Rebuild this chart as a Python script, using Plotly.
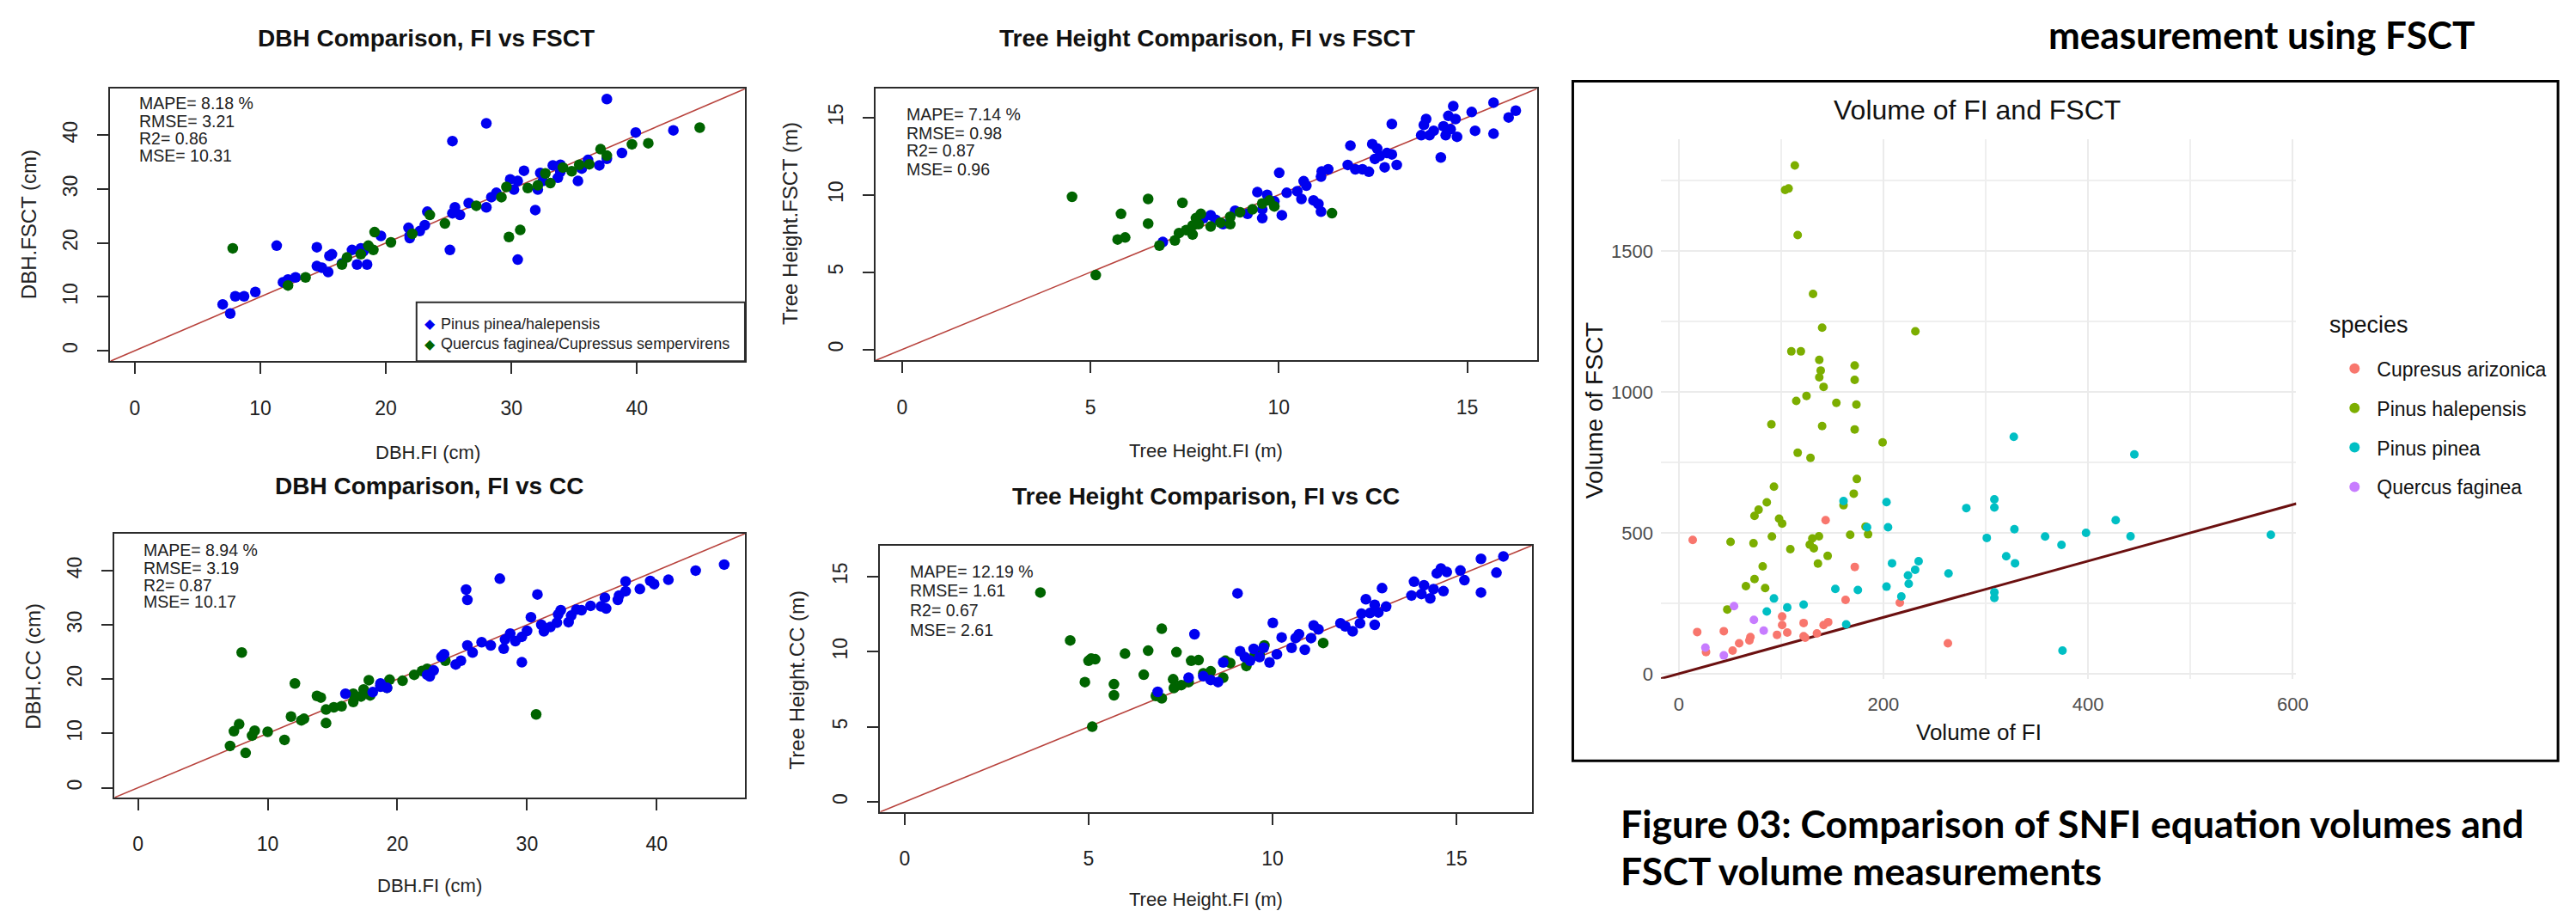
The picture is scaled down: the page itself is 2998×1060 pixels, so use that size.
import plotly.graph_objects as go

W, H = 2998, 1060
RFONT = "Liberation Sans, Arial, sans-serif"
CAPFONT = "Lato, Open Sans, sans-serif"

# ---------------- data ----------------
# Panel 1: DBH, FI vs FSCT (cm)
p1_pinus_fi = [37.6, 28.0, 25.3, 42.9, 39.9, 38.8, 37.6, 37.0, 36.1, 35.6, 35.3, 33.9, 33.3, 33.9, 33.7, 32.3, 32.5, 32.1,
               31.0, 30.5, 29.9, 30.2, 31.9, 30.5, 28.8, 28.4, 28.0, 26.6, 25.9, 25.5, 25.3, 25.1, 23.3, 23.1, 22.7, 21.8,
               21.9, 21.9, 19.6, 18.4, 18.2, 18.0, 17.3, 17.7, 18.5, 16.5, 15.7, 15.5, 14.5, 14.5, 14.9, 15.4, 12.8, 12.2,
               11.8, 11.3, 9.6, 8.7, 8.0, 7.0, 7.6]
p1_pinus_fsct = [46.7, 42.2, 38.9, 40.9, 40.5, 36.7, 35.6, 34.4, 35.4, 33.8, 31.5, 34.5, 34.4, 33.2, 32.1, 33.0, 31.5, 29.9,
                 33.4, 31.5, 31.8, 29.9, 26.1, 16.9, 29.3, 28.5, 26.6, 27.4, 25.2, 26.6, 25.5, 18.7, 25.8, 23.3, 22.2, 22.8,
                 21.4, 20.9, 21.3, 19.0, 18.4, 19.0, 18.7, 16.0, 16.0, 16.2, 17.9, 17.6, 19.2, 15.7, 15.4, 14.6, 13.6, 13.2,
                 12.7, 19.5, 10.9, 10.1, 10.1, 8.6, 6.9]
p1_quercus_fi = [45.0, 40.9, 39.6, 37.1, 37.6, 36.2, 35.4, 34.8, 34.1, 33.1, 32.7, 32.1, 31.3, 29.6, 30.7, 29.8, 29.2, 27.2,
                 24.7, 23.5, 22.1, 20.4, 19.1, 19.0, 18.6, 18.0, 16.9, 16.5, 13.6, 12.2, 7.8]
p1_quercus_fsct = [41.4, 38.5, 38.3, 37.4, 36.2, 34.6, 34.5, 33.3, 34.0, 31.1, 32.9, 30.7, 30.2, 30.4, 22.4, 21.1, 28.5, 26.9,
                   23.6, 25.2, 21.7, 20.1, 22.0, 18.7, 19.5, 17.9, 17.3, 16.0, 13.6, 12.1, 19.0]

# Panel 2: tree height, FI vs FSCT (m)
p2_pinus_fi = [6.92, 8.0, 8.19, 8.32, 8.52, 8.84, 9.17, 9.43, 9.56, 9.56, 9.69, 9.88, 10.01, 10.08, 10.21, 10.49, 10.60,
               10.66, 10.73, 10.92, 11.05, 11.12, 11.12, 11.31, 11.14, 11.83, 11.90, 12.03, 12.22, 12.39, 12.48, 12.55,
               12.61, 12.68, 12.81, 12.87, 13.0, 13.13, 13.0, 13.78, 13.85, 13.91, 14.0, 14.11, 14.30, 14.37, 14.43,
               14.50, 14.56, 14.63, 14.69, 14.73, 15.12, 15.21, 15.70, 15.70, 16.10, 16.29]
p2_pinus_fsct = [6.95, 8.49, 8.68, 8.39, 8.10, 8.97, 8.77, 10.17, 8.49, 9.06, 10.0, 9.58, 11.42, 8.68, 10.13, 10.23, 9.73,
                 10.88, 10.59, 9.64, 9.41, 8.91, 11.17, 11.65, 11.51, 11.93, 13.18, 11.65, 11.65, 11.49, 13.28, 12.32,
                 12.99, 12.51, 11.78, 12.70, 12.61, 11.93, 14.58, 13.85, 14.52, 14.90, 13.85, 14.14, 12.41, 14.43, 13.85,
                 15.10, 14.24, 15.73, 14.90, 13.75, 15.35, 14.14, 15.96, 13.95, 15.0, 15.44]
p2_quercus_fi = [4.51, 5.14, 5.72, 5.92, 5.81, 6.53, 6.53, 7.44, 6.83, 7.24, 7.35, 7.54, 7.71, 7.71, 7.87, 7.80, 7.93, 8.19,
                 8.45, 8.71, 8.71, 8.97, 9.30, 9.56, 9.75, 9.88, 11.41]
p2_quercus_fsct = [9.87, 4.81, 7.11, 7.24, 8.77, 9.73, 8.14, 9.48, 6.72, 7.05, 7.53, 7.72, 7.43, 8.01, 8.10, 8.49, 8.77, 7.95,
                   8.20, 8.10, 8.58, 8.87, 9.06, 9.44, 9.63, 9.25, 8.81]

# Panel 3: DBH, FI vs CC (cm)
p3_pinus_fi = [16.0, 18.1, 18.7, 19.2, 18.7, 22.3, 22.5, 22.8, 23.4, 23.6, 24.5, 24.9, 25.3, 25.4, 25.4, 25.8, 26.5, 27.2,
               27.9, 28.2, 28.3, 28.7, 29.1, 29.6, 29.6, 30.0, 30.3, 30.8, 31.1, 31.3, 31.8, 32.3, 32.4, 32.6, 33.2, 33.4,
               33.8, 34.2, 34.9, 35.7, 36.0, 36.1, 37.0, 37.1, 37.6, 37.6, 38.7, 39.5, 39.8, 40.9, 43.0, 45.2]
p3_pinus_cc = [17.3, 17.6, 18.6, 18.4, 19.2, 20.8, 20.5, 21.6, 24.1, 24.6, 22.7, 23.4, 36.5, 34.6, 26.2, 24.9, 26.8, 26.2,
               38.5, 25.6, 27.3, 28.4, 27.0, 23.1, 27.8, 28.9, 31.4, 35.6, 30.0, 28.8, 29.6, 30.4, 31.9, 32.7, 30.5, 31.7,
               32.8, 32.7, 33.5, 33.4, 35.0, 33.0, 34.6, 35.4, 38.0, 36.2, 36.6, 38.1, 37.5, 38.3, 40.0, 41.1]
p3_quercus_fi = [8.0, 12.1, 11.8, 13.8, 14.1, 14.5, 14.5, 15.1, 15.7, 16.6, 16.6, 17.2, 17.4, 17.8, 17.9, 18.7, 19.2, 19.4,
                 20.4, 21.3, 21.9, 22.3, 23.7, 30.7, 7.1, 7.4, 7.8, 8.3, 8.8, 9.0, 10.0, 11.3, 12.6, 12.8]
p3_quercus_cc = [24.9, 19.2, 13.1, 16.9, 16.6, 11.9, 14.4, 14.8, 15.0, 15.8, 17.3, 16.8, 18.1, 19.8, 17.0, 18.9, 18.4, 19.9,
                 19.7, 20.8, 21.5, 21.9, 23.4, 13.5, 7.7, 10.4, 11.7, 6.4, 9.6, 10.5, 10.3, 8.8, 12.4, 12.7]

# Panel 4: tree height, FI vs CC (m)
p4_pinus_fi = [6.88, 7.88, 7.72, 8.12, 8.32, 8.52, 8.66, 9.05, 9.12, 9.25, 9.39, 9.49, 9.65, 9.76, 9.92, 10.01, 10.12, 10.25,
               10.52, 10.63, 10.72, 10.88, 11.05, 11.12, 11.25, 11.85, 11.98, 12.18, 12.38, 12.42, 12.54, 12.65, 12.78,
               12.78, 12.88, 12.98, 13.09, 13.78, 13.85, 14.05, 14.12, 14.29, 14.38, 14.47, 14.58, 14.65, 14.74, 15.11,
               15.22, 15.67, 15.67, 16.09, 16.28]
p4_pinus_cc = [7.32, 11.15, 8.26, 8.36, 8.11, 7.97, 9.28, 13.87, 10.02, 9.63, 9.39, 10.18, 9.63, 10.25, 9.28, 11.91, 9.82,
               10.94, 10.25, 10.90, 11.15, 10.12, 10.90, 11.74, 11.48, 11.88, 11.68, 11.35, 11.88, 12.52, 13.48, 12.56,
               13.11, 11.78, 12.60, 14.22, 12.99, 13.73, 14.65, 13.83, 14.41, 13.54, 14.16, 15.20, 15.53, 14.02, 15.29,
               15.39, 14.75, 16.17, 13.93, 15.25, 16.33]
p4_quercus_fi = [3.69, 4.50, 4.90, 5.0, 5.07, 5.18, 5.10, 5.69, 5.69, 5.99, 6.50, 6.62, 6.99, 7.39, 6.83, 6.99, 7.30, 7.32,
                 7.52, 7.72, 7.79, 7.99, 8.12, 8.32, 8.66, 8.72, 8.85, 9.29, 9.52, 9.65, 9.78, 11.38]
p4_quercus_cc = [13.93, 10.74, 7.97, 9.39, 9.53, 9.49, 5.0, 7.83, 7.09, 9.86, 8.46, 10.06, 11.52, 9.96, 7.05, 6.89, 8.16,
                 7.58, 7.77, 7.97, 9.39, 9.43, 8.55, 8.69, 8.26, 9.39, 9.24, 9.04, 9.77, 9.82, 10.41, 10.57]

# Panel 5: volume FI vs FSCT, by species
species = ["Cupresus arizonica", "Pinus halepensis", "Pinus pinea", "Quercus faginea"]
species_colors = ["#F8766D", "#7CAE00", "#00BFC4", "#C77CFF"]
vol_cup_fi = [13.6, 143.5, 172, 163, 216, 101, 122, 141.5, 146, 101, 96, 106, 122, 123.5, 135, 70, 69, 59, 52.6, 44, 18,
              26.6, 263]
vol_cup_fsct = [475, 545, 379, 262, 252, 203, 180, 173, 183, 173, 138, 146, 133, 128, 143, 130, 118, 108, 82, 151, 148,
                77, 108]
vol_hal_fi = [113.4, 103.9, 107.3, 116.2, 131.2, 140.1, 231.2, 110, 119.3, 137.3, 138.7, 137.3, 171.9, 171.9, 141.5, 114.8,
              124.8, 154, 173.6, 90.5, 140.1, 171.9, 199.2, 116.2, 128.7, 174, 171, 161, 93, 86, 78, 74, 98, 101, 91,
              50.6, 73, 109, 128, 137, 130.5, 132, 145.5, 136, 167.5, 185, 182.5, 82, 74, 65.6, 84.4, 47.4]
vol_hal_fsct = [1804, 1717, 1722, 1557, 1348, 1228, 1215, 1144, 1144, 1114, 1076, 1052, 1094, 1043, 1018, 968, 986, 961,
                955, 885, 879, 867, 821, 784, 766, 691, 639, 598, 664, 608, 582, 560, 550, 533, 487, 468, 463, 442, 458,
                488, 480, 445, 418, 391, 493, 495, 522, 381, 336, 311, 304, 228]
vol_pin_fi = [327.4, 445.2, 161, 203, 281, 308.4, 308.4, 204.5, 184, 328, 427, 301, 358, 398, 441.5, 374, 578.6, 320, 328.6,
              208.4, 234.4, 231, 224, 263.6, 224.7, 203, 153, 175, 217.5, 93, 308.4, 308.4, 122, 106, 86, 163.6, 375]
vol_pin_fsct = [841, 778, 613, 609, 588, 619, 590, 520, 520, 513, 545, 482, 487, 500, 488, 457, 493, 417, 392, 392, 399,
                369, 349, 356, 319, 309, 301, 297, 274, 267, 289, 269, 245, 235, 221, 175, 82]
vol_que_fi = [54, 73.4, 83, 26, 44]
vol_que_fsct = [240, 191, 153, 93, 65]

# statistics text per panel
p1_stats = ["MAPE= 8.18 %", "RMSE= 3.21", "R2= 0.86", "MSE= 10.31"]
p2_stats = ["MAPE= 7.14 %", "RMSE= 0.98", "R2= 0.87", "MSE= 0.96"]
p3_stats = ["MAPE= 8.94 %", "RMSE= 3.19", "R2= 0.87", "MSE= 10.17"]
p4_stats = ["MAPE= 12.19 %", "RMSE= 1.61", "R2= 0.67", "MSE= 2.61"]

# axis ranges
p1_range = [-1.95, 48.6]
p2_range = [-0.7, 16.85]
p3_range = [-1.8, 46.8]
p4_range = [-0.67, 17.05]
vol_x_range = [-17.5, 603.5]
vol_y_range = [-18, 1897]

BLUE = "#0000F0"
DKGREEN = "#006400"
ABLINE = "#B8433D"


def px(x):
    return x / W


def py(y):
    return 1 - y / H


fig = go.Figure()


def add_r_panel(n, fi_a, y_a, fi_b, y_b, rng, order_ab=True):
    xa, ya = ("x" if n == 1 else f"x{n}"), ("y" if n == 1 else f"y{n}")
    fig.add_trace(go.Scatter(x=rng, y=rng, mode="lines", line=dict(color=ABLINE, width=1.6),
                             xaxis=xa, yaxis=ya, showlegend=False, hoverinfo="skip"))
    tr_a = go.Scatter(x=fi_a, y=y_a, mode="markers", marker=dict(color=BLUE, size=12.5),
                      xaxis=xa, yaxis=ya, showlegend=False)
    tr_b = go.Scatter(x=fi_b, y=y_b, mode="markers", marker=dict(color=DKGREEN, size=12.5),
                      xaxis=xa, yaxis=ya, showlegend=False)
    if order_ab:
        fig.add_trace(tr_a); fig.add_trace(tr_b)
    else:
        fig.add_trace(tr_b); fig.add_trace(tr_a)


add_r_panel(1, p1_pinus_fi, p1_pinus_fsct, p1_quercus_fi, p1_quercus_fsct, p1_range, True)
add_r_panel(2, p2_pinus_fi, p2_pinus_fsct, p2_quercus_fi, p2_quercus_fsct, p2_range, True)
add_r_panel(3, p3_pinus_fi, p3_pinus_cc, p3_quercus_fi, p3_quercus_cc, p3_range, False)
add_r_panel(4, p4_pinus_fi, p4_pinus_cc, p4_quercus_fi, p4_quercus_cc, p4_range, False)

# volume panel
fig.add_trace(go.Scatter(x=vol_x_range, y=vol_x_range, mode="lines", line=dict(color="#6b1010", width=3),
                         xaxis="x5", yaxis="y5", showlegend=False, hoverinfo="skip"))
vol_sets = [(vol_cup_fi, vol_cup_fsct), (vol_hal_fi, vol_hal_fsct), (vol_pin_fi, vol_pin_fsct), (vol_que_fi, vol_que_fsct)]
for name, col, (vx, vy) in zip(species, species_colors, vol_sets):
    fig.add_trace(go.Scatter(x=vx, y=vy, mode="markers", name=name, legendgroup=name,
                             marker=dict(color=col, size=10), xaxis="x5", yaxis="y5", showlegend=True))


def r_axis(dom, rng, dtick, anchor, is_y):
    d = dict(domain=dom, range=rng, anchor=anchor, dtick=dtick, tick0=0, autorange=False,
             showline=True, mirror=True, linecolor="#2b2b2b", linewidth=2,
             ticks="outside", ticklen=13, tickwidth=2, tickcolor="#2b2b2b",
             showgrid=False, zeroline=False,
             tickfont=dict(family=RFONT, size=23, color="#222222"))
    if is_y:
        d["tickangle"] = -90
        d["ticklabelstandoff"] = 14
    else:
        d["ticklabelstandoff"] = 20
    return d


layout_axes = {
    "xaxis": r_axis([px(121), px(863)], p1_range, 10, "y", False),
    "yaxis": r_axis([py(415), py(96)], p1_range, 10, "x", True),
    "xaxis2": r_axis([px(1016), px(1789)], p2_range, 5, "y2", False),
    "yaxis2": r_axis([py(414), py(96)], p2_range, 5, "x2", True),
    "xaxis3": r_axis([px(126), px(863)], p3_range, 10, "y3", False),
    "yaxis3": r_axis([py(926), py(617)], p3_range, 10, "x3", True),
    "xaxis4": r_axis([px(1021), px(1783)], p4_range, 5, "y4", False),
    "yaxis4": r_axis([py(943), py(631)], p4_range, 5, "x4", True),
    "xaxis5": dict(domain=[px(1934), px(2677)], range=vol_x_range, anchor="y5", dtick=200, tick0=0,
                   showline=False, zeroline=False, ticks="", showgrid=True, gridcolor="#EBEBEB", gridwidth=2,
                   minor=dict(dtick=100, showgrid=True, gridcolor="#EFEFEF", gridwidth=1.5),
                   tickfont=dict(family=RFONT, size=22, color="#4D4D4D"), ticklabelstandoff=14),
    "yaxis5": dict(domain=[py(787), py(155)], range=vol_y_range, anchor="x5", dtick=500, tick0=0,
                   showline=False, zeroline=False, ticks="", showgrid=True, gridcolor="#EBEBEB", gridwidth=2,
                   minor=dict(dtick=250, showgrid=True, gridcolor="#EFEFEF", gridwidth=1.5),
                   tickfont=dict(family=RFONT, size=22, color="#4D4D4D"), ticklabelstandoff=8),
}

ann = []


def text(t, x, y, size, family=RFONT, color="#111111", xanchor="center", angle=0, bold=False):
    ann.append(dict(text=(f"<b>{t}</b>" if bold else t), x=px(x), y=py(y), xref="paper", yref="paper",
                    xanchor=xanchor, yanchor="middle", showarrow=False, textangle=angle,
                    font=dict(family=family, size=size, color=color)))


# panel titles
text("DBH Comparison, FI vs FSCT", 490, 37, 28, bold=True)
text("Tree Height Comparison, FI vs FSCT", 1404, 37, 28, bold=True)
text("DBH Comparison, FI vs CC", 494, 561, 28, bold=True)
text("Tree Height Comparison, FI vs CC", 1402, 573, 28, bold=True)

# stats
for stats, x0, ys in [(p1_stats, 153, [113, 134, 154, 174]), (p2_stats, 1050, [126, 148, 168, 190]),
                      (p3_stats, 158, [636, 657, 677, 697]), (p4_stats, 1054, [661, 684, 707, 730])]:
    for s, yy in zip(stats, ys):
        text(s, x0, yy, 19.5, color="#222222", xanchor="left")

# axis titles
text("DBH.FI (cm)", 492, 522, 22, color="#222222")
text("DBH.FSCT (cm)", 25, 255, 24, color="#222222", angle=-90)
text("Tree Height.FI (m)", 1402, 520, 22, color="#222222")
text("Tree Height.FSCT (m)", 916, 254, 24, color="#222222", angle=-90)
text("DBH.FI (cm)", 494, 1029, 22, color="#222222")
text("DBH.CC (cm)", 31, 772, 24, color="#222222", angle=-90)
text("Tree Height.FI (m)", 1402, 1045, 22, color="#222222")
text("Tree Height.CC (m)", 924, 789, 24, color="#222222", angle=-90)

# panel 1 legend
text("\u25C6", 495, 371, 16, family="DejaVu Sans", color=BLUE)
text("\u25C6", 495, 395, 16, family="DejaVu Sans", color=DKGREEN)
text("Pinus pinea/halepensis", 505, 371, 18, color="#222222", xanchor="left")
text("Quercus faginea/Cupressus sempervirens", 505, 395, 18, color="#222222", xanchor="left")

# volume panel texts
text("Volume of FI and FSCT", 2304, 121, 32, color="#111111")
text("Volume of FI", 2306, 850, 26, color="#111111")
text("Volume of FSCT", 1857, 473, 28, color="#111111", angle=-90)
text("species", 2714, 372, 27, color="#111111", xanchor="left")

# captions
text("measurement using FSCT", 2636, 32, 44, family=CAPFONT, color="#000000", bold=True)
text("Figure 03: Comparison of SNFI equation volumes and", 1885, 956, 44.5, family=CAPFONT, color="#000000",
     xanchor="left", bold=True)
text("FSCT volume measurements", 1885, 1011, 44.5, family=CAPFONT, color="#000000", xanchor="left", bold=True)

shapes = [
    dict(type="rect", xref="paper", yref="paper", x0=px(479), x1=px(863), y0=py(415), y1=py(346),
         line=dict(color="#2b2b2b", width=2), fillcolor="rgba(0,0,0,0)"),
    dict(type="rect", xref="paper", yref="paper", x0=px(1831), x1=px(2983), y0=py(883), y1=py(87),
         line=dict(color="#000000", width=3), fillcolor="rgba(0,0,0,0)"),
]

fig.update_layout(
    width=W, height=H, margin=dict(l=0, r=0, t=0, b=0),
    paper_bgcolor="white", plot_bgcolor="white",
    annotations=ann, shapes=shapes,
    legend=dict(x=px(2719), y=py(402), xanchor="left", yanchor="top",
                font=dict(family=RFONT, size=23, color="#111111"), tracegroupgap=13,
                itemwidth=42, itemsizing="constant", bgcolor="rgba(0,0,0,0)"),
    **layout_axes,
)

fig.write_html("out.html")
